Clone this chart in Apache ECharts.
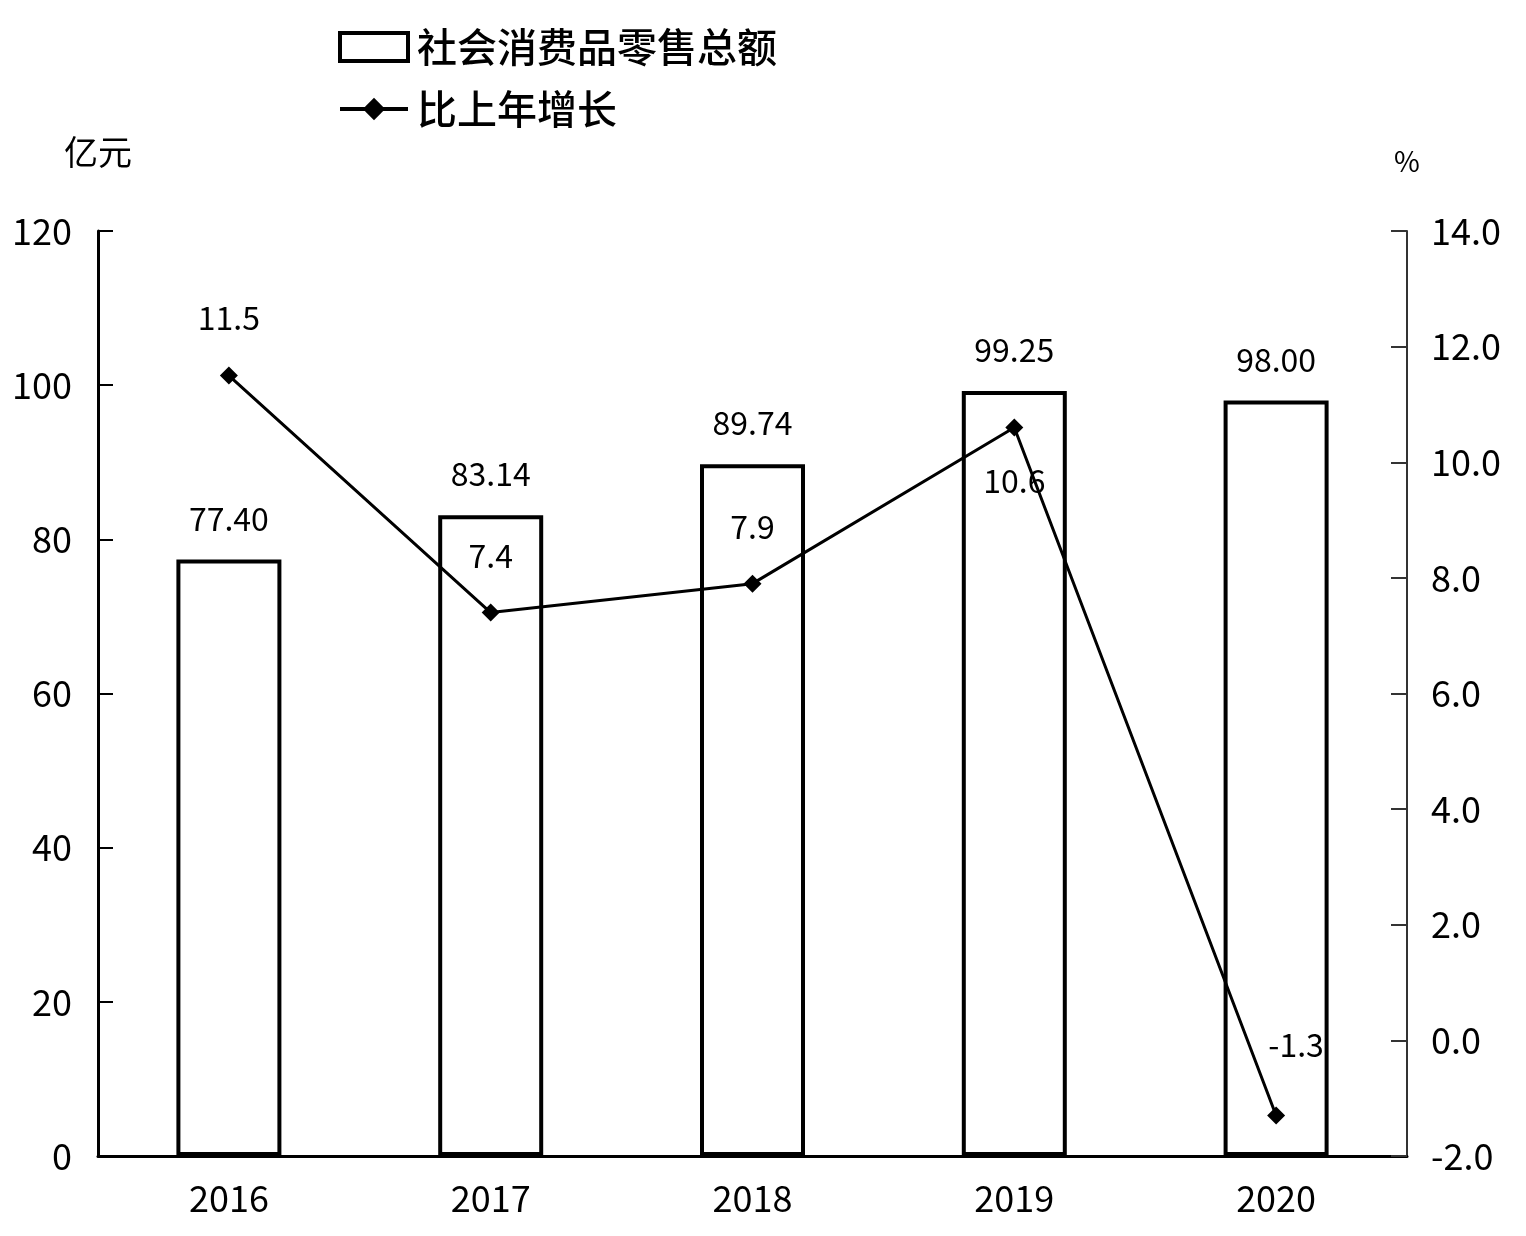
<!DOCTYPE html>
<html><head><meta charset="utf-8">
<script src="https://cdn.jsdelivr.net/npm/echarts@6/dist/echarts.min.js"></script>
<style>html,body{margin:0;padding:0;background:#fff}#c{width:1526px;height:1236px}</style>
</head><body><div id="c"></div>
<script>
const categories = ['2016','2017','2018','2019','2020'];
const salesValues = [77.40, 83.14, 89.74, 99.25, 98.00];
const growthValues = [11.5, 7.4, 7.9, 10.6, -1.3];
const salesName = '社会消费品零售总额';
const growthName = '比上年增长';

const FONT = '"Noto Sans CJK SC", sans-serif';
const chart = echarts.init(document.getElementById('c'));
const growthLabelPos = [
  {position:'top', distance:33},
  {position:'top', distance:32},
  {position:'top', distance:32},
  {position:'bottom', distance:28},
  {position:'top', distance:46, offset:[20,0]}
];
chart.setOption({
  animation:false,
  backgroundColor:'#fff',
  textStyle:{fontFamily:FONT, color:'#000'},
  legend:{
    orient:'vertical', left:333, top:22, itemWidth:68, itemHeight:28, itemGap:22,
    textStyle:{fontSize:40, color:'#000', fontFamily:FONT, fontWeight:500, padding:[0,0,0,4]},
    data:[
      {name:salesName, icon:'rect', itemStyle:{color:'#fff', borderColor:'#000', borderWidth:4}},
      {name:growthName, lineStyle:{color:'#000', width:4}}
    ]
  },
  grid:{left:98, right:119, top:231, bottom:80},
  xAxis:{
    type:'category', data:categories,
    axisLine:{lineStyle:{color:'#000', width:3}},
    axisTick:{inside:true, length:16, lineStyle:{color:'#000', width:2}},
    axisLabel:{fontSize:36, color:'#000', margin:24, fontFamily:FONT}
  },
  yAxis:[{
    type:'value', min:0, max:120, interval:20, name:'亿元',
    nameGap:62, nameTextStyle:{fontSize:34, color:'#000', fontFamily:FONT},
    splitLine:{show:false},
    axisLine:{show:true, lineStyle:{color:'#000', width:3}},
    axisTick:{show:true, inside:true, length:15, lineStyle:{color:'#000', width:2}},
    axisLabel:{fontSize:36, color:'#000', margin:26, fontFamily:FONT}
  },{
    type:'value', min:-2, max:14, interval:2, name:'%',
    nameGap:56, nameTextStyle:{fontSize:28, color:'#000', fontFamily:FONT},
    splitLine:{show:false},
    axisLine:{show:true, lineStyle:{color:'#333', width:2}},
    axisTick:{show:true, inside:true, length:16, lineStyle:{color:'#333', width:2}},
    axisLabel:{fontSize:36, color:'#000', margin:24, fontFamily:FONT, formatter:v=>v.toFixed(1)}
  }],
  series:[{
    name:salesName, type:'bar', yAxisIndex:0, data:salesValues, barWidth:105,
    itemStyle:{color:'#fff', borderColor:'#000', borderWidth:4},
    label:{show:true, position:'top', distance:25, fontSize:32, color:'#000', fontFamily:FONT,
      formatter:p=>p.value.toFixed(2)},
    z:2
  },{
    name:growthName, type:'line', yAxisIndex:1,
    data:growthValues.map((v,i)=>({value:v, label:growthLabelPos[i]})),
    symbol:'diamond', symbolSize:18,
    lineStyle:{color:'#000', width:3}, itemStyle:{color:'#000'},
    label:{show:true, fontSize:32, color:'#000', fontFamily:FONT, formatter:p=>p.value.toFixed(1)},
    z:5
  }]
});
</script></body></html>
